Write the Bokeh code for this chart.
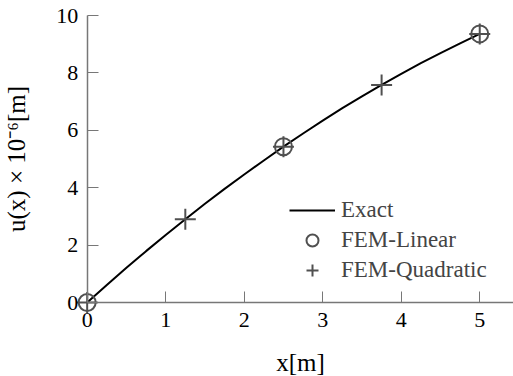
from bokeh.plotting import figure
from bokeh.models import Range1d, Legend, LegendItem, FixedTicker
from bokeh.embed import file_html
from bokeh.resources import INLINE

# Exact displacement u(x) sampled along the bar [m], values in 1e-6 m
x_exact = [0.0, 0.25, 0.5, 0.75, 1.0, 1.25, 1.5, 1.75, 2.0, 2.25, 2.5,
           2.75, 3.0, 3.25, 3.5, 3.75, 4.0, 4.25, 4.5, 4.75, 5.0]
u_exact = [0.0, 0.61, 1.21, 1.79, 2.35, 2.90, 3.44, 3.96, 4.46, 4.95, 5.43,
           5.89, 6.34, 6.77, 7.18, 7.58, 7.97, 8.34, 8.69, 9.03, 9.36]

# FEM nodal solutions
x_linear = [0.0, 2.5, 5.0]
u_linear = [0.0, 5.43, 9.36]
x_quad = [0.0, 1.25, 2.5, 3.75, 5.0]
u_quad = [0.0, 2.90, 5.43, 7.58, 9.36]

x_ticks = [0, 1, 2, 3, 4, 5]
y_ticks = [0, 2, 4, 6, 8, 10]

SERIF = "Liberation Serif"
AXIS_GREY = "#777777"
MARK_GREY = "#505050"

# The frame fills the whole canvas; the axes sit on the zero lines so the
# markers at the origin are not cut off.
p = figure(width=513, height=376,
           x_range=Range1d(-1.104, 5.43), y_range=Range1d(-2.578, 10.523),
           output_backend="svg", toolbar_location=None,
           min_border=0)
p.outline_line_color = None
p.grid.visible = False
p.background_fill_color = "white"
p.border_fill_color = "white"

exact = p.line(x_exact, u_exact, line_color="black", line_width=2)
lin = p.scatter(x_linear, u_linear, marker="circle", size=17,
                fill_color=None, line_color=MARK_GREY, line_width=2)
quad = p.scatter(x_quad, u_quad, marker="cross", size=21,
                 line_color=MARK_GREY, line_width=2)

for ax, ticks in ((p.xaxis[0], x_ticks), (p.yaxis[0], y_ticks)):
    ax.ticker = FixedTicker(ticks=ticks)
    ax.fixed_location = 0
    ax.axis_line_color = AXIS_GREY
    ax.axis_line_width = 1.5
    ax.major_tick_line_color = AXIS_GREY
    ax.major_tick_line_width = 1
    ax.major_tick_in = 11
    ax.major_tick_out = 0
    ax.minor_tick_line_color = None
    ax.major_label_text_font = SERIF
    ax.major_label_text_font_size = "22px"
    ax.major_label_text_color = "black"
    ax.axis_label_text_font = SERIF
    ax.axis_label_text_font_size = "25px"
    ax.axis_label_text_font_style = "normal"
    ax.axis_label_text_color = "black"

p.xaxis.bounds = (0, 5.43)
p.yaxis.bounds = (0, 10)
p.xaxis.axis_label = "x[m]"
p.yaxis.axis_label = "u(x) \u00d7 10\u207b\u2076[m]"
p.xaxis.major_label_standoff = 10
p.yaxis.major_label_standoff = 9
p.xaxis.axis_label_standoff = 19
p.yaxis.axis_label_standoff = 24

legend = Legend(items=[LegendItem(label="Exact", renderers=[exact]),
                       LegendItem(label="FEM-Linear", renderers=[lin]),
                       LegendItem(label="FEM-Quadratic", renderers=[quad])],
                location=(289, 91))
legend.border_line_color = None
legend.background_fill_alpha = 0
legend.padding = 0
legend.margin = 0
legend.spacing = 0
legend.glyph_width = 46
legend.glyph_height = 30
legend.label_height = 30
legend.label_standoff = 6
legend.label_text_font = SERIF
legend.label_text_font_size = "23px"
p.add_layout(legend)

open("out.html", "w").write(file_html(p, INLINE))
